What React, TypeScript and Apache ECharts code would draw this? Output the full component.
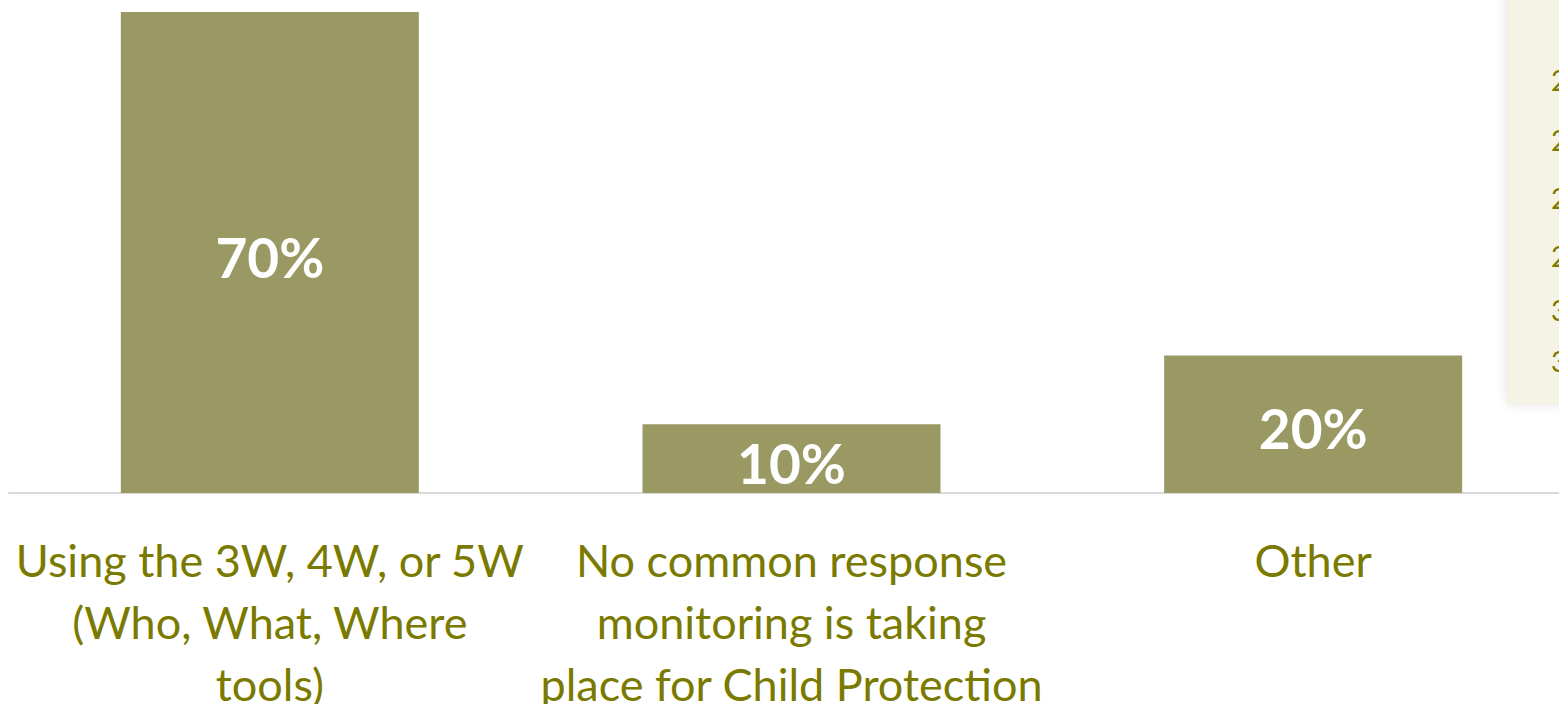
import React, { useEffect, useRef } from "react";
import * as echarts from "echarts";

const categories = [
  "Using the 3W, 4W, or 5W\n(Who, What, Where\ntools)",
  "No common response\nmonitoring is taking\nplace for Child Protection",
  "Other",
];
const values = [70, 10, 20];
const panelGlyphs = ["2", "2", "2", "2", "3", "3"];
const panelGlyphY = [80, 140, 198, 256, 310, 361];

export default function App() {
  const ref = useRef<HTMLDivElement>(null);
  useEffect(() => {
    document.body.style.margin = "0";
    const chart = echarts.init(ref.current!, null, { renderer: "svg" });
    chart.setOption({
      animation: false,
      grid: {
        left: 9,
        right: -15,
        top: 12,
        bottom: 211,
        containLabel: false,
        outerBoundsMode: "none",
      },
      xAxis: {
        type: "category",
        data: categories,
        axisTick: { show: false },
        axisLine: { show: true, lineStyle: { color: "#d9d9d9", width: 2 } },
        axisLabel: {
          color: "#7a7a00",
          fontFamily: "Lato",
          fontSize: 45,
          lineHeight: 62,
          margin: 36,
          interval: 0,
        },
      },
      yAxis: {
        type: "value",
        min: 0,
        max: 70,
        show: false,
        splitLine: { show: false },
      },
      series: [
        {
          type: "bar",
          data: values,
          barWidth: 298,
          itemStyle: { color: "#9a9963" },
          label: {
            show: true,
            position: "inside",
            offset: [0, 4],
            formatter: "{c}%",
            color: "#ffffff",
            fontFamily: "Lato",
            fontWeight: "bold",
            fontSize: 55,
          },
        },
      ],
      graphic: [
        {
          type: "rect",
          shape: { x: 1507, y: -10, width: 80, height: 414 },
          style: { fill: "#f5f3e5", shadowBlur: 12, shadowColor: "rgba(0,0,0,0.12)" },
        },
        ...panelGlyphs.map((g, i) => ({
          type: "text",
          x: 1551,
          y: panelGlyphY[i],
          style: {
            text: g,
            fill: "#7a7a00",
            font: "28px Lato",
            textVerticalAlign: "middle",
          },
        })),
      ],
    });
    return () => chart.dispose();
  }, []);
  return (
    <div
      ref={ref}
      style={{ position: "absolute", left: 0, top: 0, width: 1559, height: 704 }}
    />
  );
}
